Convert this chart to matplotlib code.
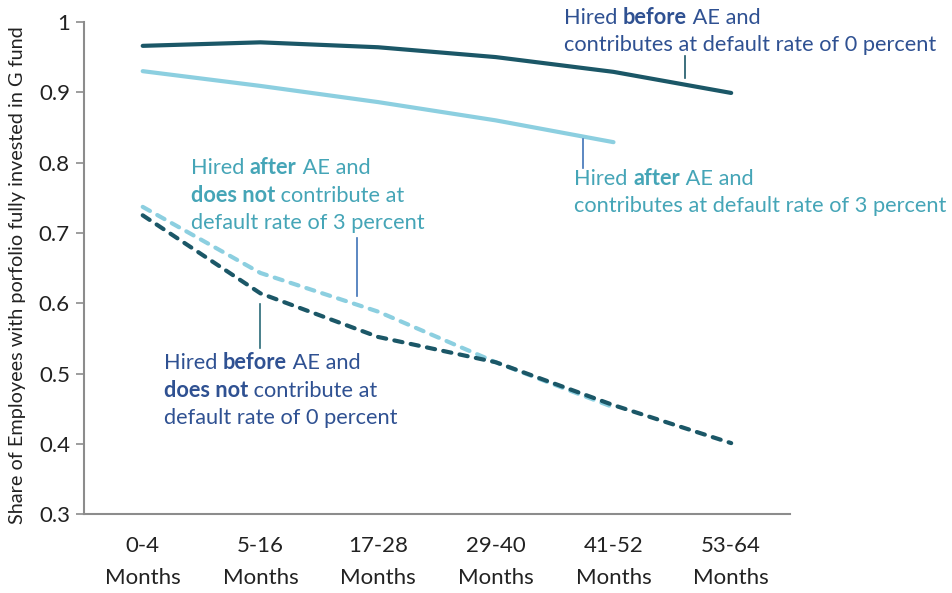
import matplotlib
matplotlib.use('Agg')
import matplotlib.pyplot as plt
from matplotlib.offsetbox import TextArea, HPacker, VPacker, AnnotationBbox

plt.rcParams['font.family'] = ['Lato', 'DejaVu Sans']

categories = ['0-4\nMonths', '5-16\nMonths', '17-28\nMonths', '29-40\nMonths', '41-52\nMonths', '53-64\nMonths']
before_contrib = [0.966, 0.971, 0.964, 0.950, 0.929, 0.899]
after_contrib = [0.930, 0.909, 0.886, 0.860, 0.829]
after_no_contrib = [0.737, 0.643, 0.588, 0.516, 0.452]
before_no_contrib = [0.725, 0.614, 0.552, 0.516, 0.455, 0.401]
y_ticks = [0.3, 0.4, 0.5, 0.6, 0.7, 0.8, 0.9, 1.0]
y_tick_labels = ['0.3', '0.4', '0.5', '0.6', '0.7', '0.8', '0.9', '1']

dark = '#1b5767'
light = '#8ccfe0'
txt_dark = '#2f5192'
txt_light = '#45a5b7'
axis_gray = '#8c8c8c'

fig = plt.figure(figsize=(9.53, 5.93), dpi=100)
ax = fig.add_axes([0.088, 0.133, 0.741, 0.830])

x_all = list(range(len(categories)))
dashes = (0, (2.0, 2.0))
ax.plot(x_all, before_contrib, color=dark, lw=3, solid_capstyle='round')
ax.plot(x_all[:len(after_contrib)], after_contrib, color=light, lw=3, solid_capstyle='round')
ax.plot(x_all[:len(after_no_contrib)], after_no_contrib, color=light, lw=3,
        linestyle=dashes, dash_capstyle='round')
ax.plot(x_all, before_no_contrib, color=dark, lw=3,
        linestyle=dashes, dash_capstyle='round')

ax.set_xlim(-0.5, len(categories) - 0.5)
ax.set_ylim(0.3, 1.0)
ax.set_xticks(x_all)
ax.set_xticklabels(categories, fontsize=16, color='#222222', linespacing=1.7)
ax.set_yticks(y_ticks)
ax.set_yticklabels(y_tick_labels, fontsize=16, color='#222222')
ax.tick_params(axis='x', length=0, pad=16)
ax.tick_params(axis='y', length=6, width=1.2, color=axis_gray, pad=4)
for side in ['top', 'right']:
    ax.spines[side].set_visible(False)
for side in ['left', 'bottom']:
    ax.spines[side].set_color(axis_gray)
    ax.spines[side].set_linewidth(1.5)

fig.text(0.018, 0.536, 'Share of Employees with porfolio fully invested in G fund',
         rotation=90, ha='center', va='center', fontsize=14.3, color='#222222')


def rich_label(lines, color, xy):
    # each line is a list of (text, bold) pieces
    rows = []
    for pieces in lines:
        parts = [TextArea(t, textprops=dict(color=color, fontsize=15.7,
                                             fontweight='bold' if b else 'normal'))
                 for t, b in pieces]
        rows.append(HPacker(children=parts, pad=0, sep=0, align='baseline'))
    box = VPacker(children=rows, pad=0, sep=4.9, align='left')
    ab = AnnotationBbox(box, xy, xycoords='figure pixels', box_alignment=(0, 1),
                        frameon=False, pad=0)
    fig.add_artist(ab)


H = 593
rich_label([[('Hired ', False), ('before', True), (' AE and', False)],
            [('contributes at default rate of 0 percent', False)]],
           txt_dark, (564, H - 7))
rich_label([[('Hired ', False), ('after', True), (' AE and', False)],
            [('contributes at default rate of 3 percent', False)]],
           txt_light, (574, H - 168))
rich_label([[('Hired ', False), ('after', True), (' AE and', False)],
            [('does not', True), (' contribute at', False)],
            [('default rate of 3 percent', False)]],
           txt_light, (191, H - 157))
rich_label([[('Hired ', False), ('before', True), (' AE and', False)],
            [('does not', True), (' contribute at', False)],
            [('default rate of 0 percent', False)]],
           txt_dark, (164, H - 352))

# leader lines from labels to their series
def leader(x, y0, y1, color):
    fig.add_artist(plt.Line2D([x / 953, x / 953], [1 - y0 / H, 1 - y1 / H],
                              color=color, lw=1.2))

leader(685, 56, 78, dark)
leader(583, 139, 168, '#3f73b8')
leader(357, 238, 296, '#3f73b8')
leader(260, 304, 348, '#2a6b78')

fig.savefig('out.png', dpi=100)
